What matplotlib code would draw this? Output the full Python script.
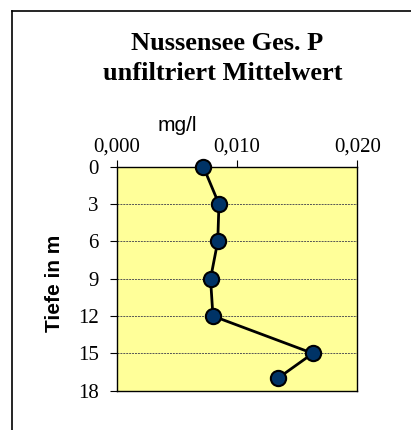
import matplotlib
matplotlib.use("Agg")
import matplotlib.pyplot as plt
from matplotlib.lines import Line2D

depths = [0, 3, 6, 9, 12, 15, 17]
values = [0.0072, 0.0085, 0.0084, 0.0078, 0.0080, 0.0163, 0.0134]
x_ticks = [0.0, 0.010, 0.020]
x_tick_labels = ["0,000", "0,010", "0,020"]
y_ticks = [0, 3, 6, 9, 12, 15, 18]

W, H = 411, 430
fig = plt.figure(figsize=(W / 100, H / 100), dpi=100)
ax = fig.add_axes([116.7 / W, 1 - 390.7 / H, (357.3 - 116.7) / W, (390.7 - 166.7) / H])
ax.set_facecolor("#FFFF99")
ax.plot(values, depths, color="black", lw=2, marker="o", markersize=11,
        markerfacecolor="#003366", markeredgecolor="black", markeredgewidth=1.5, zorder=3,
        clip_on=False)
ax.set_xlim(0, 0.020)
ax.set_ylim(18, 0)
ax.xaxis.tick_top()
ax.set_xticks(x_ticks)
ax.set_xticklabels(x_tick_labels, fontfamily="Liberation Serif", fontsize=15)
ax.set_yticks(y_ticks)
ax.set_yticklabels([str(v) for v in y_ticks], fontfamily="Liberation Serif", fontsize=15)
ax.tick_params(axis="both", direction="out", length=5, width=0.8, colors="black")
ax.tick_params(axis="y", pad=8)
ax.tick_params(axis="x", pad=2)
for y in y_ticks[1:-1]:
    ax.axhline(y, color="#555555", lw=0.7, ls=(0, (2, 1)), zorder=1)
for s in ax.spines.values():
    s.set_linewidth(1.0)
    s.set_color("black")

fig.text(227 / W, 1 - 43 / H, "Nussensee Ges. P", ha="center", va="center",
         fontfamily="Liberation Serif", fontweight="bold", fontsize=19)
fig.text(223 / W, 1 - 73 / H, "unfiltriert Mittelwert", ha="center", va="center",
         fontfamily="Liberation Serif", fontweight="bold", fontsize=19)
fig.text(177 / W, 1 - 125 / H, "mg/l", ha="center", va="center",
         fontfamily="Liberation Sans", fontsize=15)
fig.text(55 / W, 1 - 283 / H, "Tiefe in m", ha="center", va="center", rotation=90,
         fontfamily="Liberation Sans", fontweight="bold", fontsize=15)

# chart area border
fig.add_artist(Line2D([12 / W, 1], [1 - 11 / H, 1 - 11 / H], color="black", lw=1.2))
fig.add_artist(Line2D([12 / W, 12 / W], [0, 1 - 11 / H], color="black", lw=1.2))

fig.savefig("out.png", dpi=100)
